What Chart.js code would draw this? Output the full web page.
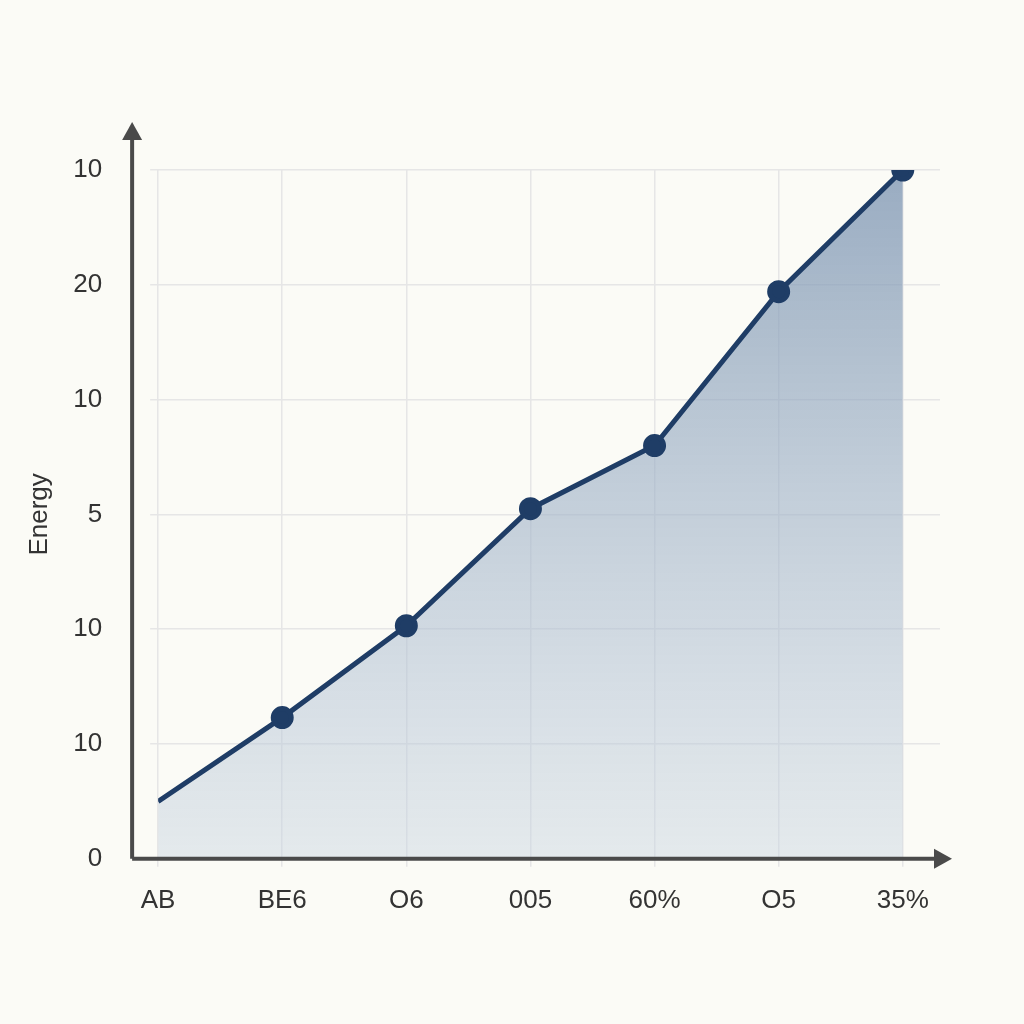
<!DOCTYPE html>
<html><head><meta charset="utf-8">
<script src="https://cdn.jsdelivr.net/npm/chart.js@4"></script>
<style>html,body{margin:0;background:#fbfbf6}#w{width:1024px;height:1024px}</style>
</head><body><div id="w"><canvas id="c" width="1024" height="1024"></canvas></div>
<script>
const categories = ["AB","BE6","O6","005","60%","O5","35%"];
const values = [0.5, 1.23, 2.03, 3.05, 3.6, 4.94, 6.0];
const yTickLabels = ["0","10","10","5","10","20","10"];
const pointSizes = [0, 9, 9, 9, 9, 9, 9];

const arrows = {
  id:'arrows',
  afterDraw(ch){
    const {ctx, chartArea:a} = ch;
    const x0 = a.left - 26, y0 = a.bottom;
    ctx.save();
    ctx.strokeStyle = '#4a4a4a'; ctx.fillStyle = '#4a4a4a'; ctx.lineWidth = 4;
    ctx.beginPath(); ctx.moveTo(x0, y0); ctx.lineTo(x0, a.top - 38); ctx.stroke();
    ctx.beginPath(); ctx.moveTo(x0, a.top - 48); ctx.lineTo(x0-10, a.top-30); ctx.lineTo(x0+10, a.top-30); ctx.closePath(); ctx.fill();
    ctx.beginPath(); ctx.moveTo(x0, y0); ctx.lineTo(a.right + 2, y0); ctx.stroke();
    ctx.beginPath(); ctx.moveTo(a.right + 12, y0); ctx.lineTo(a.right-6, y0-10); ctx.lineTo(a.right-6, y0+10); ctx.closePath(); ctx.fill();
    ctx.restore();
  }
};

new Chart(document.getElementById('c'), {
  type: 'line',
  data: { datasets: [{
    data: values.map((v,i)=>({x:i,y:v})),
    borderColor: '#1f3d66', borderWidth: 5,
    pointRadius: pointSizes, pointBackgroundColor: '#1f3d66', pointBorderColor: '#1f3d66',
    tension: 0,
    fill: 'origin',
    backgroundColor: (ctx)=>{
      const a = ctx.chart.chartArea; if(!a) return 'rgba(100,130,165,0.5)';
      const g = ctx.chart.ctx.createLinearGradient(0,a.top,0,a.bottom);
      g.addColorStop(0,'rgba(120,145,175,0.75)');
      g.addColorStop(1,'rgba(200,212,225,0.45)');
      return g;
    }
  }]},
  options: {
    responsive:false, animation:false,
    layout:{padding:{left:20,right:84,top:170,bottom:90}},
    plugins:{legend:{display:false},tooltip:{enabled:false}},
    scales:{
      x:{type:'linear', min:0, max:6.3, border:{display:false},
        grid:{color:'#e6e6e6', lineWidth:1.5},
        afterBuildTicks(s){ s.ticks = categories.map((c,i)=>({value:i})); },
        ticks:{ callback:(v)=>categories[v], color:'#333', font:{size:26,family:'Liberation Sans'}, padding:18, maxRotation:0 }
      },
      y:{min:0, max:6, border:{display:false},
        grid:{color:'#e6e6e6', lineWidth:1.5},
        ticks:{stepSize:1, callback:(v)=>yTickLabels[v], color:'#333', font:{size:26,family:'Liberation Sans'}, padding:48},
        title:{display:true, text:'Energy', color:'#333', font:{size:26,family:'Liberation Sans'}, padding:{bottom:-30}}
      }
    }
  },
  plugins:[arrows]
});
</script></body></html>
